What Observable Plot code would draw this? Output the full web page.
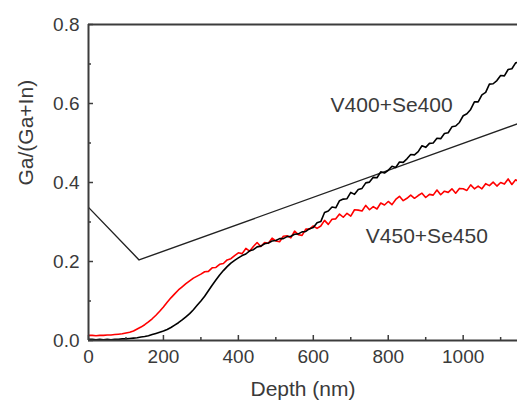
<!DOCTYPE html>
<html><head><meta charset="utf-8">
<script src="https://cdn.jsdelivr.net/npm/d3@7"></script>
<script src="https://cdn.jsdelivr.net/npm/@observablehq/plot@0.6"></script>
<style>html,body{margin:0;padding:0;background:#fff;overflow:hidden}</style>
</head><body><div id="chart"></div>
<script>
const depth = [0,10,20,30,40,50,60,70,80,90,100,
110,120,130,140,150,160,170,180,190,200,
210,220,230,240,250,260,270,280,290,300,
310,320,330,340,350,360,370,380,390,400,
410,420,430,440,450,460,470,480,490,500,
510,520,530,540,550,560,570,580,590,600,
610,620,630,640,650,660,670,680,690,700,
710,720,730,740,750,760,770,780,790,800,
810,820,830,840,850,860,870,880,890,900,
910,920,930,940,950,960,970,980,990,1000,
1010,1020,1030,1040,1050,1060,1070,1080,1090,1100,
1110,1120,1130,1140,1150];
const v400 = [0.003,0.003,0.002,0.003,0.002,0.003,0.002,0.003,0.003,0.004,0.004,
0.005,0.006,0.007,0.009,0.010,0.012,0.015,0.018,0.021,0.024,
0.028,0.033,0.039,0.045,0.052,0.060,0.068,0.078,0.089,0.100,
0.112,0.126,0.140,0.153,0.166,0.177,0.187,0.196,0.203,0.209,
0.215,0.219,0.227,0.230,0.237,0.239,0.245,0.247,0.252,0.253,
0.258,0.258,0.263,0.264,0.269,0.270,0.275,0.276,0.283,0.286,
0.298,0.301,0.324,0.328,0.338,0.336,0.354,0.358,0.359,0.375,
0.370,0.382,0.385,0.399,0.401,0.413,0.412,0.427,0.424,0.431,
0.441,0.438,0.452,0.451,0.460,0.471,0.470,0.478,0.493,0.489,
0.499,0.500,0.512,0.511,0.524,0.526,0.541,0.543,0.552,0.569,
0.574,0.585,0.604,0.604,0.622,0.628,0.649,0.650,0.658,0.671,
0.670,0.686,0.688,0.703,0.704];
const v450 = [0.013,0.013,0.012,0.013,0.013,0.014,0.014,0.015,0.016,0.017,0.019,
0.021,0.024,0.029,0.034,0.040,0.047,0.055,0.064,0.074,0.085,
0.097,0.108,0.118,0.128,0.136,0.144,0.151,0.158,0.163,0.168,
0.174,0.175,0.184,0.185,0.193,0.195,0.204,0.207,0.215,0.222,
0.220,0.233,0.226,0.238,0.248,0.238,0.248,0.246,0.259,0.252,
0.250,0.264,0.265,0.260,0.277,0.268,0.266,0.282,0.282,0.290,
0.284,0.290,0.304,0.294,0.307,0.308,0.320,0.312,0.322,0.315,
0.331,0.330,0.328,0.342,0.331,0.339,0.333,0.348,0.343,0.352,
0.344,0.357,0.365,0.354,0.360,0.368,0.360,0.367,0.373,0.362,
0.370,0.368,0.381,0.369,0.378,0.375,0.384,0.373,0.385,0.384,
0.380,0.394,0.384,0.391,0.384,0.397,0.392,0.401,0.391,0.400,
0.396,0.409,0.395,0.407,0.401];
const guideDepth = [0, 135, 1150];
const guideValue = [0.337, 0.204, 0.55];
const labelText = ["V400+Se400", "V450+Se450"];
const labelDepth = [809, 903];
const labelValue = [0.595, 0.263];
const xTitle = "Depth (nm)";
const yTitle = "Ga/(Ga+In)";
const xMajor = [0,200,400,600,800,1000];
const xMinor = [100,300,500,700,900,1100];
const yMajor = [0,0.2,0.4,0.6,0.8];
const yMinor = [0.1,0.3,0.5,0.7];

const black = depth.map((d,i)=>({x:d, y:v400[i]}));
const red = depth.map((d,i)=>({x:d, y:v450[i]}));
const guide = guideDepth.map((d,i)=>({x:d, y:guideValue[i]}));
const labels = labelText.map((t,i)=>({t, x:labelDepth[i], y:labelValue[i]}));

const axisColor = "#3c3c3c";
const textColor = "#3a3a3a";
const chart = Plot.plot({
  width: 517, height: 402,
  marginLeft: 88, marginRight: 0, marginTop: 24, marginBottom: 62,
  x: {domain: [0, 1145]},
  y: {domain: [0, 0.8]},
  style: {fontFamily: "'Liberation Sans', Arial, sans-serif", color: axisColor, background: "#fff"},
  marks: [
    Plot.line(guide, {x:"x", y:"y", stroke:"#222", strokeWidth:1.4, clip:true}),
    Plot.line(red, {x:"x", y:"y", stroke:"#ff0000", strokeWidth:1.6, clip:true}),
    Plot.line(black, {x:"x", y:"y", stroke:"#000", strokeWidth:1.6, clip:true}),
    Plot.text(labels, {x:"x", y:"y", text:"t", fontSize:21, fill:textColor, style:"letter-spacing:0.8px"}),
    Plot.axisX({ticks: xMajor, tickSize: -5, tickPadding: 14, tickFormat: d=>String(d), fontSize: 19, stroke: axisColor, strokeWidth: 1.5, fill: textColor, label: null}),
    Plot.axisX({ticks: xMinor, tickSize: -3, tickFormat: () => "", stroke: axisColor, strokeWidth: 1.5, label: null}),
    Plot.axisY({ticks: yMajor, tickSize: -5, tickPadding: 14, tickFormat: d=>d.toFixed(1), fontSize: 19, stroke: axisColor, strokeWidth: 1.5, fill: textColor, label: null}),
    Plot.axisY({ticks: yMinor, tickSize: -3, tickFormat: () => "", stroke: axisColor, strokeWidth: 1.5, label: null}),
    Plot.text([xTitle], {text: d=>d, frameAnchor: "bottom", dy: 55, fontSize: 21, fill: textColor, style:"letter-spacing:1.8px"}),
    Plot.text([yTitle], {text: d=>d, frameAnchor: "left", dx: -62, dy: 3, rotate: -90, fontSize: 21, fill: textColor, style:"letter-spacing:0.6px"}),
    Plot.ruleY([0], {stroke: axisColor, strokeWidth: 2}),
    Plot.ruleY([0.8], {stroke: axisColor, strokeWidth: 2}),
    Plot.ruleX([0], {stroke: axisColor, strokeWidth: 2})
  ]
});
document.getElementById("chart").appendChild(chart);
</script>
</body></html>
